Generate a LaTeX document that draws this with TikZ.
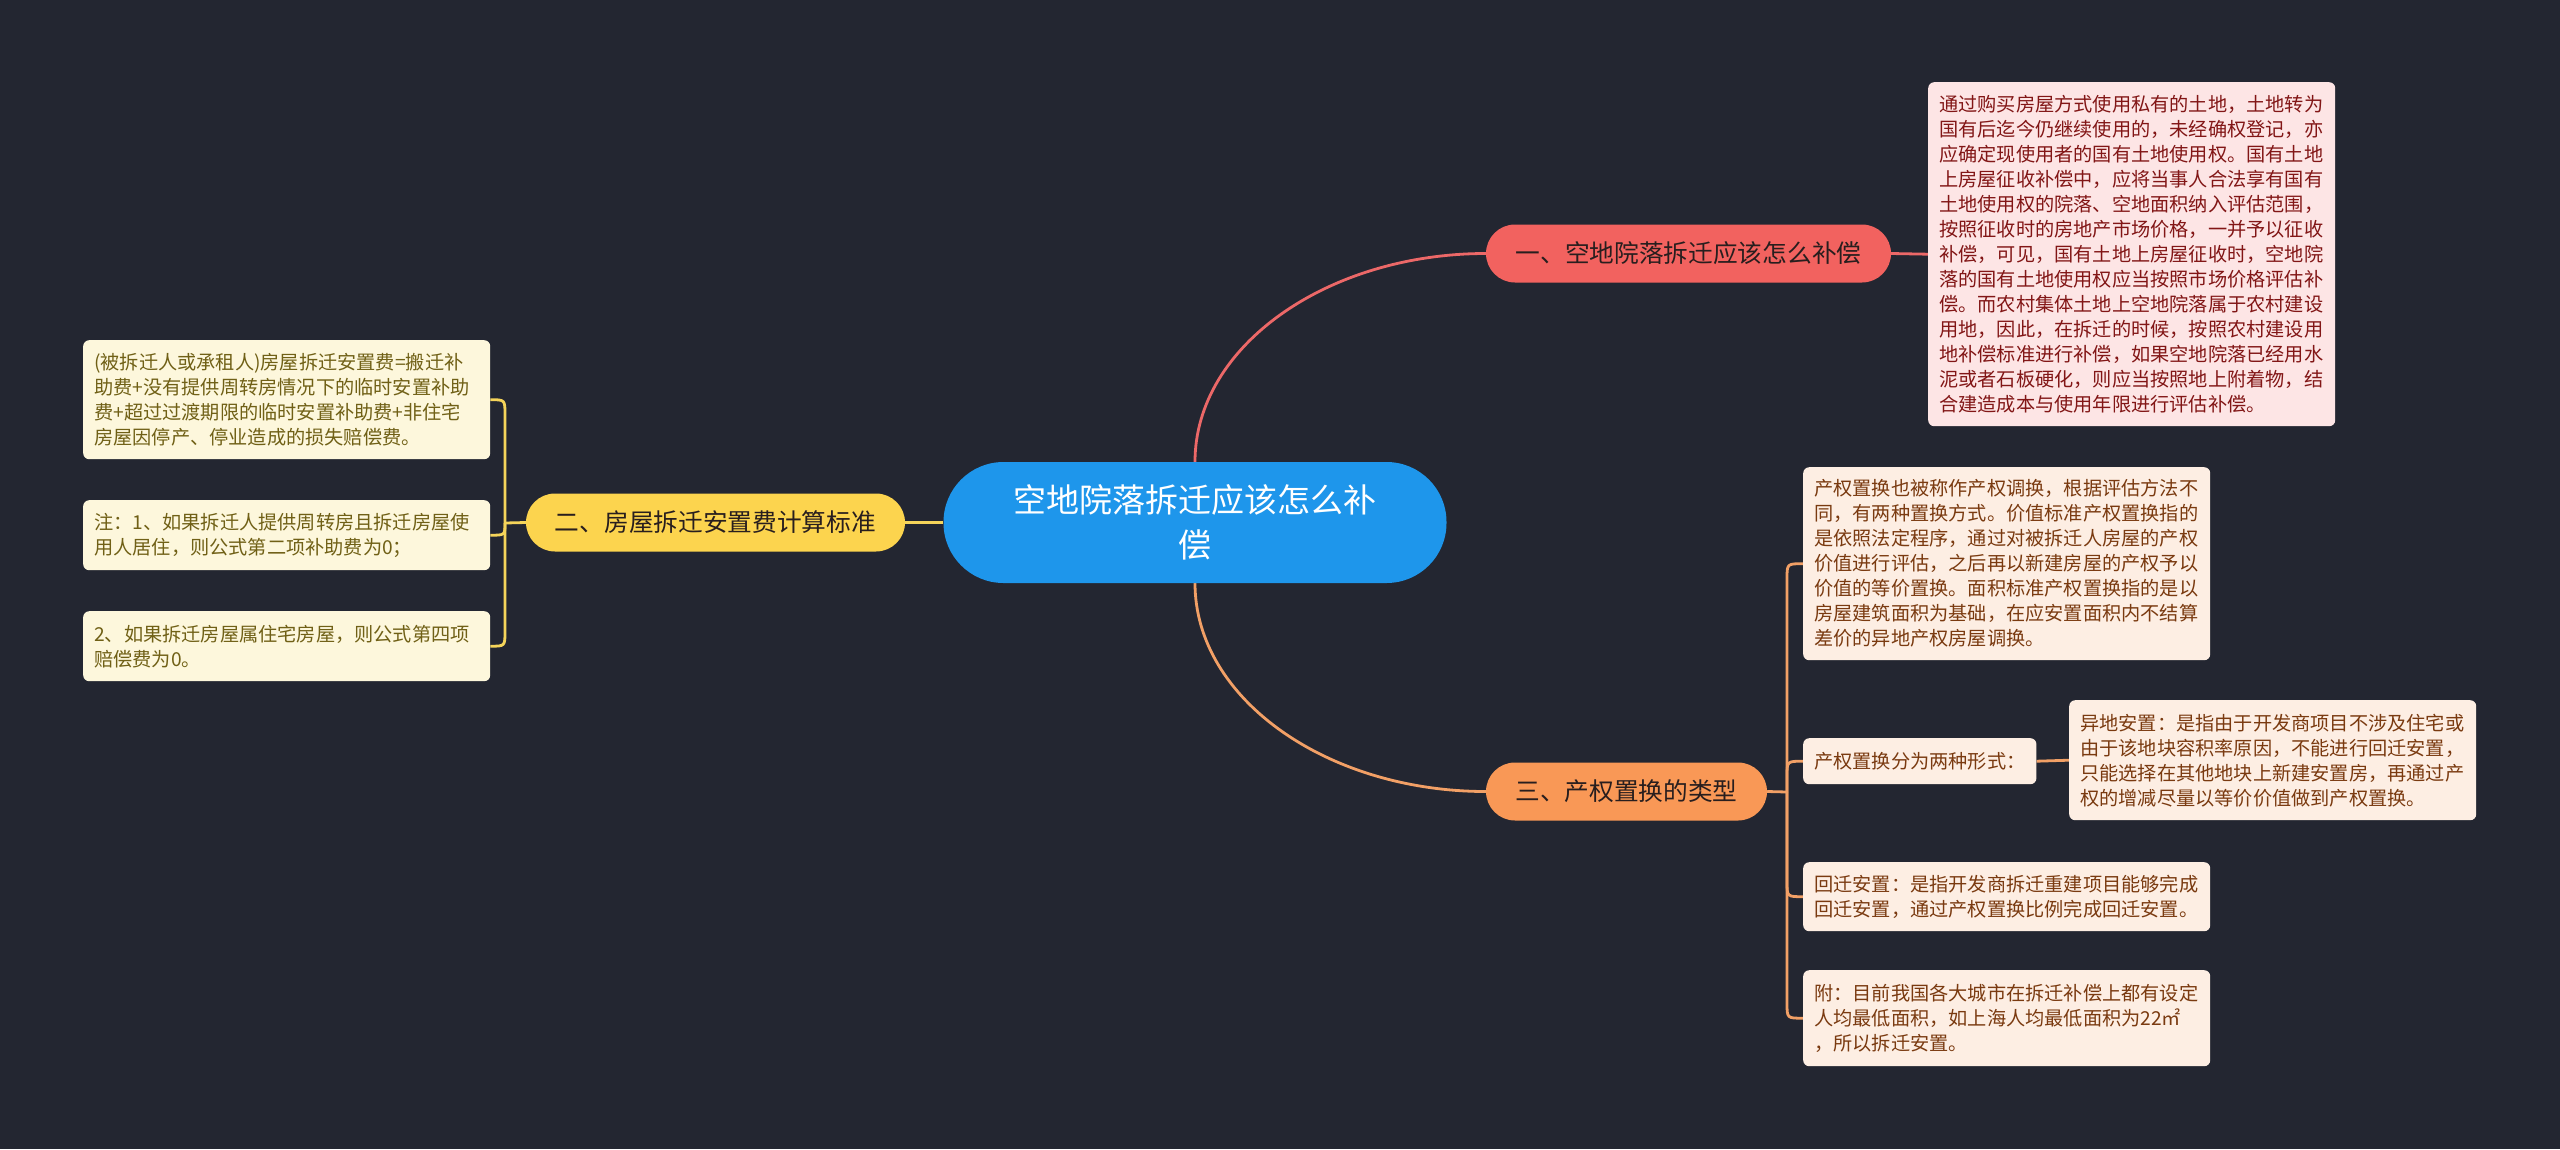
\documentclass[tikz,border=0pt]{standalone}
\usepackage{fontspec}
\setmainfont{Noto Sans CJK SC}
\usetikzlibrary{calc,backgrounds}
\definecolor{bgc}{RGB}{35,38,49}
\definecolor{cblue}{RGB}{30,150,235}
\definecolor{cred}{RGB}{242,98,95}
\definecolor{cyel}{RGB}{252,212,78}
\definecolor{cora}{RGB}{249,152,86}
\definecolor{lred}{RGB}{236,104,104}
\definecolor{lyel}{RGB}{245,212,90}
\definecolor{lora}{RGB}{242,160,102}
\definecolor{fpink}{RGB}{253,229,229}
\definecolor{tpink}{RGB}{130,22,22}
\definecolor{fcream}{RGB}{253,247,220}
\definecolor{tcream}{RGB}{112,96,22}
\definecolor{fpeach}{RGB}{253,238,227}
\definecolor{tpeach}{RGB}{122,58,16}
\definecolor{tdark}{RGB}{40,30,30}
\tikzset{
  centernode/.style={fill=cblue, rounded corners=60pt, minimum width=503pt, minimum height=121pt,
    text=white, align=center, font=\fontsize{33}{45}\selectfont, inner sep=0pt},
  branchnode/.style={rounded corners=29pt, minimum height=58pt, inner xsep=10pt,
    text=tdark, font=\fontsize{24.7}{30}\selectfont},
  leafbox/.style={rounded corners=6pt, anchor=north west, text width=385pt, align=left,
    inner xsep=11pt, inner ysep=6pt, font=\fontsize{19.2}{25}\selectfont},
  pinkbox/.style={leafbox, fill=fpink, text=tpink},
  creambox/.style={leafbox, fill=fcream, text=tcream},
  peachbox/.style={leafbox, fill=fpeach, text=tpeach},
  conn/.style={line width=2.8pt},
}
\begin{document}
\begin{tikzpicture}[x=1pt,y=-1pt]
\useasboundingbox (0,0) rectangle (2560,1149);

% center
\node[centernode] (c) at (1195,522.5) {空地院落拆迁应该怎么补\\偿};

% branches
\node[branchnode, fill=cred, minimum width=405pt] (b1) at (1688.5,253.5) {一、空地院落拆迁应该怎么补偿};
\node[branchnode, fill=cyel, minimum width=379pt] (b2) at (715.5,522.5) {二、房屋拆迁安置费计算标准};
\node[branchnode, fill=cora, minimum width=281pt] (b3) at (1626.5,791.5) {三、产权置换的类型};

% branch 1 leaf
\node[pinkbox, minimum height=344pt] (tr) at (1928,82) {通过购买房屋方式使用私有的土地，土地转为\\国有后迄今仍继续使用的，未经确权登记，亦\\应确定现使用者的国有土地使用权。国有土地\\上房屋征收补偿中，应将当事人合法享有国有\\土地使用权的院落、空地面积纳入评估范围，\\按照征收时的房地产市场价格，一并予以征收\\补偿，可见，国有土地上房屋征收时，空地院\\落的国有土地使用权应当按照市场价格评估补\\偿。而农村集体土地上空地院落属于农村建设\\用地，因此，在拆迁的时候，按照农村建设用\\地补偿标准进行补偿，如果空地院落已经用水\\泥或者石板硬化，则应当按照地上附着物，结\\合建造成本与使用年限进行评估补偿。};

% branch 2 leaves
\node[creambox, minimum height=119pt] (l1) at (83,340) {(被拆迁人或承租人)房屋拆迁安置费=搬迁补\\助费+没有提供周转房情况下的临时安置补助\\费+超过过渡期限的临时安置补助费+非住宅\\房屋因停产、停业造成的损失赔偿费。};
\node[creambox, minimum height=70pt] (l2) at (83,500) {注：1、如果拆迁人提供周转房且拆迁房屋使\\用人居住，则公式第二项补助费为0；};
\node[creambox, minimum height=70pt] (l3) at (83,611) {2、如果拆迁房屋属住宅房屋，则公式第四项\\赔偿费为0。};

% branch 3 leaves
\node[peachbox, minimum height=193pt] (ra) at (1803,467) {产权置换也被称作产权调换，根据评估方法不\\同，有两种置换方式。价值标准产权置换指的\\是依照法定程序，通过对被拆迁人房屋的产权\\价值进行评估，之后再以新建房屋的产权予以\\价值的等价置换。面积标准产权置换指的是以\\房屋建筑面积为基础，在应安置面积内不结算\\差价的异地产权房屋调换。};
\node[peachbox, text width=, minimum height=46pt] (rb) at (1803,738) {产权置换分为两种形式：};
\node[peachbox, minimum height=120pt] (rc) at (2069,700) {异地安置：是指由于开发商项目不涉及住宅或\\由于该地块容积率原因，不能进行回迁安置，\\只能选择在其他地块上新建安置房，再通过产\\权的增减尽量以等价价值做到产权置换。};
\node[peachbox, minimum height=69pt] (rd) at (1803,862) {回迁安置：是指开发商拆迁重建项目能够完成\\回迁安置，通过产权置换比例完成回迁安置。};
\node[peachbox, minimum height=96pt] (re) at (1803,970) {附：目前我国各大城市在拆迁补偿上都有设定\\人均最低面积，如上海人均最低面积为22㎡\\，所以拆迁安置。};

\coordinate (j2) at (505,523);
\coordinate (j3) at (1787,792);

\begin{pgfonlayer}{background}
\fill[bgc] (0,0) rectangle (2560,1149);
% center to branches
\draw[conn, lred] (c.north) .. controls +(0,-116) and +(-158,0) .. (b1.west);
\draw[conn, lora] (c.south) .. controls +(0,116) and +(-158,0) .. (b3.west);
\draw[conn, lyel] (b2.east) -- (c.west);
% branch 1
\draw[conn, lred] (b1.east) -- (tr.west);
% branch 2
\draw[conn, lyel] (b2.west) -- (j2);
\draw[conn, lyel] (j2) -- ($(j2|-l1.east)+(0,15)$) .. controls (j2|-l1.east) .. (l1.east);
\draw[conn, lyel] (j2) .. controls (j2|-l2.east) .. (l2.east);
\draw[conn, lyel] (j2) -- ($(j2|-l3.east)+(0,-15)$) .. controls (j2|-l3.east) .. (l3.east);
% branch 3
\draw[conn, lora] (b3.east) -- (j3);
\draw[conn, lora] (j3) -- ($(j3|-ra.west)+(0,15)$) .. controls (j3|-ra.west) .. (ra.west);
\draw[conn, lora] (j3) -- ($(j3|-rb.west)+(0,15)$) .. controls (j3|-rb.west) .. (rb.west);
\draw[conn, lora] (j3) -- ($(j3|-rd.west)+(0,-15)$) .. controls (j3|-rd.west) .. (rd.west);
\draw[conn, lora] (j3) -- ($(j3|-re.west)+(0,-15)$) .. controls (j3|-re.west) .. (re.west);
\draw[conn, lora] (rb.east) -- (rc.west);
\end{pgfonlayer}
\end{tikzpicture}
\end{document}
